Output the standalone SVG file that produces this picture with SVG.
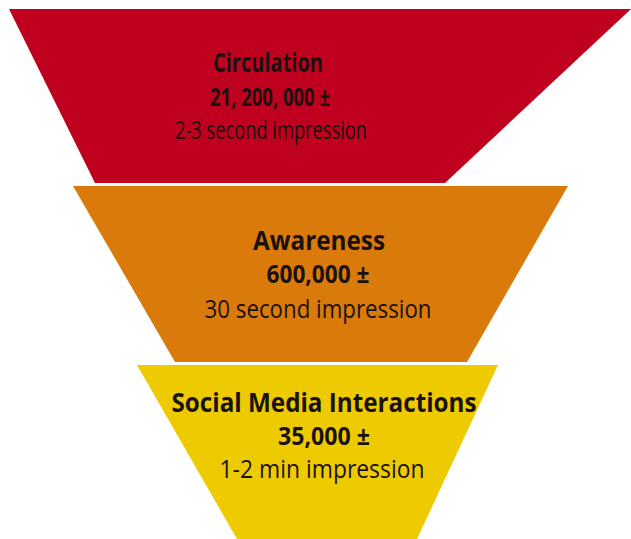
<svg xmlns="http://www.w3.org/2000/svg" width="631" height="539" viewBox="0 0 631 539">
<style>
text{font-family:"Open Sans","Liberation Sans",sans-serif;fill:#1a1210;text-anchor:middle}
.b{font-weight:bold;font-size:27px}
.n{font-weight:bold;font-size:25px}
.r{font-size:25px}
</style>
<rect width="631" height="539" fill="#ffffff"/>
<g id="circulation">
<polygon points="9,9 631,9 445,183 95,183" fill="#C0001F"/>
<text class="b" x="268" y="72" textLength="110" lengthAdjust="spacingAndGlyphs">Circulation</text>
<text class="n" x="270" y="106" textLength="120" lengthAdjust="spacingAndGlyphs">21, 200, 000 ±</text>
<text class="r" x="271" y="139" textLength="192" lengthAdjust="spacingAndGlyphs">2-3 second impression</text>
</g>
<g id="awareness">
<polygon points="73,186 568,186 467,362 175,362" fill="#D97A0A"/>
<text class="b" x="319" y="250" textLength="132" lengthAdjust="spacingAndGlyphs">Awareness</text>
<text class="n" x="318" y="283" textLength="103" lengthAdjust="spacingAndGlyphs">600,000 ±</text>
<text class="r" x="318" y="318" textLength="227" lengthAdjust="spacingAndGlyphs">30 second impression</text>
</g>
<g id="social">
<polygon points="137,365 498,365 417,539 237,539" fill="#EECA00"/>
<text class="b" x="324" y="412" textLength="305" lengthAdjust="spacingAndGlyphs">Social Media Interactions</text>
<text class="n" x="324" y="445" textLength="92" lengthAdjust="spacingAndGlyphs">35,000 ±</text>
<text class="r" x="322" y="478" textLength="205" lengthAdjust="spacingAndGlyphs">1-2 min impression</text>
</g>
<g id="connectors"></g>
</svg>
